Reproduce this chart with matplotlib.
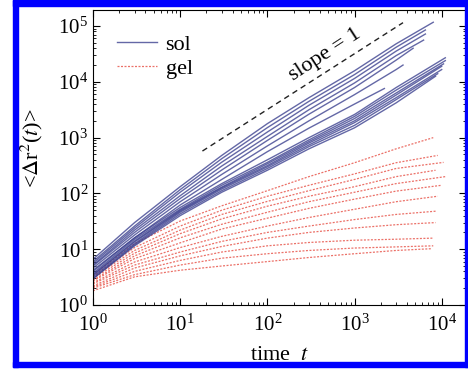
import numpy as np
from matplotlib import pyplot as plt
from matplotlib.patches import Rectangle

plt.rcParams['font.family'] = ['Liberation Serif', 'DejaVu Serif']
plt.rcParams['mathtext.fontset'] = 'stix'

# sample times shared by all curves, each curve has its own last point
t_pts = [1, 3, 10, 30, 100, 300, 1000, 3000]

# sol curves (blue, solid)
sol_vals = [
    [6.6, 30, 132, 480, 1780, 5200, 15800, 48000],
    [6.0, 26, 117, 420, 1510, 4470, 13500, 41700],
    [5.6, 24, 105, 363, 1260, 3800, 11500, 35500],
    [5.2, 22, 91, 310, 1050, 3160, 9550, 29500],
    [5.0, 20, 81, 263, 890, 2630, 7900, 24500],
    [4.6, 18, 71, 219, 710, 2000, 5900, 16600],
    [4.2, 16, 62, 178, 560, 1480, 4000],
    [4.0, 16, 56, 150, 400, 1000, 2600, 7900],
    [3.7, 15, 52, 140, 360, 910, 2400, 7100],
    [3.5, 14, 50, 130, 340, 850, 2200, 6300],
    [3.4, 13.5, 48, 126, 316, 800, 2000, 5800],
    [3.2, 12.6, 46, 120, 300, 740, 1860, 5200],
    [3.0, 12, 43, 112, 280, 690, 1660, 4800],
    [2.95, 11.5, 40, 105, 260, 630, 1500, 4200],
]
sol_end_t = [8000, 6500, 6500, 6200, 4700, 3600, 2200, 11000, 11000, 10500, 10000, 10000, 9000, 8500]
sol_end_v = [117000, 85000, 72000, 56000, 40000, 20000, 7600, 27000, 24000, 21000, 19000, 16600, 14000, 12600]

# gel curves (red, dotted)
gel_vals = [
    [3.5, 12.6, 32, 60, 112, 200, 355, 630],
    [3.3, 10.7, 26, 50, 89, 140, 224, 355],
    [3.2, 9.5, 22, 42, 72, 112, 178, 280],
    [3.0, 8.5, 19, 35, 59, 89, 132, 200],
    [2.8, 7.6, 16, 28, 46, 71, 105, 150],
    [2.7, 6.8, 13, 23, 36, 54, 79, 110],
    [2.5, 5.9, 10.7, 17, 26, 37, 52, 71],
    [2.4, 5.2, 8.9, 13.8, 20, 26, 34, 42],
    [2.2, 4.6, 7.6, 11.2, 15.8, 20, 24, 27.5],
    [2.1, 4.0, 6.3, 8.9, 11.5, 13.2, 14.5, 15.1],
    [2.0, 3.5, 5.2, 6.9, 8.3, 9.5, 10.5, 11],
    [1.8, 3.2, 4.2, 5.0, 6.0, 7.1, 8.3, 9.5],
]
gel_end_t = [8000, 9000, 10500, 8500, 11000, 10000, 9000, 8500, 8500, 8000, 8000, 7500]
gel_end_v = [1000, 480, 360, 260, 200, 140, 89, 48, 30, 15.8, 11.5, 10.2]

# slope = 1 guide
guide_t = [18, 3600]
guide_v = [575, 115000]

fig = plt.figure(figsize=(4.68, 3.70), dpi=100)
ax = fig.add_axes([93/468, 1-305/370, 373/468, 295/370])

for k in range(len(gel_vals)):
    tt = t_pts[:len(gel_vals[k])] + [gel_end_t[k]]
    vv = gel_vals[k] + [gel_end_v[k]]
    ax.plot(tt, vv, color='#e8584e', lw=0.9, ls=(0, (1.6, 1.2)), alpha=0.85,
            label='gel' if k == 0 else None)

for k in range(len(sol_vals)):
    tt = t_pts[:len(sol_vals[k])] + [sol_end_t[k]]
    vv = sol_vals[k] + [sol_end_v[k]]
    ax.plot(tt, vv, color='#3d4290', lw=1.0, alpha=0.8,
            label='sol' if k == 0 else None)

ax.plot(guide_t, guide_v, color='#222222', lw=1.0, ls=(0, (4, 3)))
ax.text(457, 3.0e4, 'slope = 1', rotation=33, fontsize=16,
        ha='center', va='center')

ax.set_xscale('log')
ax.set_yscale('log')
ax.set_xlim(1, 1.9e4)
ax.set_ylim(1, 1.94e5)
ax.tick_params(which='both', direction='in', top=True, right=True, labelsize=15)
ax.tick_params(axis='x', pad=7)
ax.tick_params(which='major', length=5)
ax.tick_params(which='minor', length=2.5)
ax.set_ylabel(r'<$\Delta$r$^2$($t$)>', fontsize=16)
ax.yaxis.set_label_coords(-0.128, 0.53)
ax.set_xlabel('time  $t$', fontsize=16, labelpad=7)

h, l = ax.get_legend_handles_labels()
ax.legend(h[::-1], l[::-1], loc='upper left', bbox_to_anchor=(0.01, 0.985),
          frameon=False, fontsize=16, handlelength=1.8, labelspacing=0.15,
          handletextpad=0.4)

# blue frame around the figure
blue = '#0000ff'
for (x0, y0, w, hh) in [(13, 0, 5, 367), (13, 0, 455, 6), (465, 0, 3, 367), (13, 362, 455, 5)]:
    fig.patches.append(Rectangle((x0/468, 1-(y0+hh)/370), w/468, hh/370,
                                 transform=fig.transFigure, color=blue, zorder=10))

fig.savefig('out.png', dpi=100)
